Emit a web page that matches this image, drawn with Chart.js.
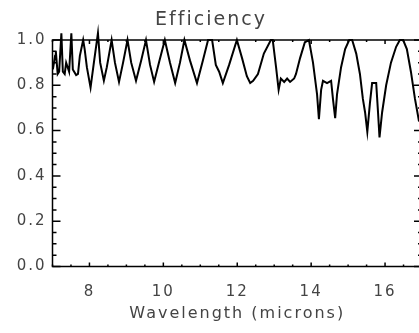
<!DOCTYPE html>
<html>
<head>
<meta charset="utf-8">
<script src="https://cdn.jsdelivr.net/npm/chart.js@4.4.1/dist/chart.umd.min.js"></script>
<style>
  html, body { margin: 0; padding: 0; background: #fff; overflow: hidden; }
  #wrap { width: 422px; height: 333px; position: relative; }
</style>
</head>
<body>
<div id="wrap"><canvas id="chart"></canvas></div>
<script>
// values
const wavelength = [
  7.01, 7.07, 7.09, 7.14, 7.18, 7.24, 7.28, 7.33, 7.37, 7.45, 7.51, 7.55, 7.64, 7.69, 7.74, 7.83,
  7.87, 7.93, 8.03, 8.12, 8.23, 8.29, 8.39, 8.47, 8.60, 8.69, 8.80, 8.91, 9.03, 9.13, 9.26, 9.40,
  9.53, 9.64, 9.75, 9.88, 10.04, 10.18, 10.32, 10.45, 10.57, 10.72, 10.91, 11.07, 11.21, 11.32,
  11.42, 11.51, 11.61, 11.78, 11.99, 12.13, 12.26, 12.35, 12.43, 12.56, 12.72, 12.91, 12.96,
  13.05, 13.12, 13.18, 13.27, 13.35, 13.43, 13.54, 13.59, 13.70, 13.83, 13.94, 14.05, 14.16,
  14.21, 14.27, 14.32, 14.43, 14.54, 14.59, 14.65, 14.70, 14.81, 14.92, 15.03, 15.11, 15.22,
  15.32, 15.40, 15.46, 15.52, 15.59, 15.65, 15.76, 15.81, 15.85, 15.92, 16.03, 16.16, 16.30,
  16.40, 16.49, 16.59, 16.70, 16.81, 16.92
];
const efficiency = [
  0.87, 0.93, 0.95, 0.85, 0.86, 1.03, 0.86, 0.85, 0.90, 0.86, 1.03, 0.87, 0.845, 0.85, 0.93, 1.00,
  0.96, 0.88, 0.79, 0.90, 1.03, 0.90, 0.82, 0.88, 1.00, 0.90, 0.815, 0.90, 1.00, 0.90, 0.82, 0.91,
  1.00, 0.89, 0.815, 0.90, 1.00, 0.90, 0.81, 0.90, 1.00, 0.91, 0.81, 0.91, 1.00, 1.00,
  0.89, 0.86, 0.81, 0.89, 1.00, 0.92, 0.84, 0.81, 0.82, 0.85, 0.94, 1.00, 1.00,
  0.88, 0.78, 0.83, 0.815, 0.83, 0.815, 0.83, 0.85, 0.92, 0.99, 1.00, 0.90, 0.76,
  0.65, 0.78, 0.82, 0.81, 0.82, 0.74, 0.655, 0.76, 0.88, 0.96, 1.00, 1.00, 0.94,
  0.85, 0.74, 0.68, 0.595, 0.72, 0.81, 0.81, 0.68, 0.57, 0.68, 0.80, 0.90, 0.97,
  1.00, 1.00, 0.96, 0.86, 0.74, 0.64
];
const xLabelTicks = [8, 10, 12, 14, 16];
const yLabelTicks = [0.0, 0.2, 0.4, 0.6, 0.8, 1.0];

const textColor = '#444';
const fontFamily = 'DejaVu Sans';

// IDL-like look: wide letter spacing and inward ticks on all four sides
const spacing = {
  id: 'spacing',
  beforeLayout(chart) { chart.ctx.letterSpacing = '2px'; },
  beforeDraw(chart) { chart.ctx.letterSpacing = '2px'; }
};

const frame = {
  id: 'frame',
  afterDatasetsDraw(chart) {
    const { ctx, chartArea: a, scales: { x, y } } = chart;
    ctx.save();
    ctx.strokeStyle = '#000';
    ctx.lineWidth = 1.5;
    ctx.strokeRect(a.left, a.top, a.right - a.left, a.bottom - a.top);
    ctx.beginPath();
    for (let i = 0; i <= 20; i++) {
      const v = i * 0.05;
      const py = y.getPixelForValue(v);
      const len = i % 4 === 0 ? 8 : 4;
      ctx.moveTo(a.left, py); ctx.lineTo(a.left + len, py);
      ctx.moveTo(a.right, py); ctx.lineTo(a.right - len, py);
    }
    for (let i = 14; i <= 34; i++) {
      const v = i * 0.5;
      const px = x.getPixelForValue(v);
      if (px > a.right) continue;
      const len = i % 4 === 0 ? 4 : 2;
      ctx.moveTo(px, a.bottom); ctx.lineTo(px, a.bottom - len);
      ctx.moveTo(px, a.top); ctx.lineTo(px, a.top + len);
    }
    ctx.stroke();
    ctx.restore();
  }
};

new Chart(document.getElementById('chart'), {
  type: 'line',
  data: {
    datasets: [{
      data: wavelength.map((w, i) => ({ x: w, y: efficiency[i] })),
      borderColor: '#000',
      borderWidth: 2,
      pointRadius: 0,
      tension: 0,
      clip: false
    }]
  },
  options: {
    responsive: true,
    maintainAspectRatio: false,
    animation: false,
    layout: { padding: 0 },
    plugins: {
      legend: { display: false },
      tooltip: { enabled: false },
      title: {
        display: true,
        text: 'Efficiency',
        color: textColor,
        font: { family: fontFamily, size: 19, weight: 'normal' },
        padding: { top: 9, bottom: 8.2 }
      }
    },
    scales: {
      x: {
        type: 'linear',
        min: 7,
        max: 17,
        afterFit(scale) { scale.height = 66.5; },
        afterBuildTicks(scale) { scale.ticks = xLabelTicks.map(v => ({ value: v })); },
        grid: { display: false, drawTicks: false },
        border: { display: false },
        ticks: {
          color: textColor,
          padding: 17,
          font: { family: fontFamily, size: 15 }
        },
        title: {
          display: true,
          text: 'Wavelength (microns)',
          color: textColor,
          font: { family: fontFamily, size: 16 },
          padding: { top: 0, bottom: 10 }
        }
      },
      y: {
        min: 0,
        max: 1,
        afterFit(scale) { scale.width = 52.5; },
        afterBuildTicks(scale) { scale.ticks = yLabelTicks.map(v => ({ value: v })); },
        grid: { display: false, drawTicks: false },
        border: { display: false },
        ticks: {
          color: textColor,
          padding: 6,
          font: { family: fontFamily, size: 15 },
          callback: v => v.toFixed(1)
        }
      }
    }
  },
  plugins: [spacing, frame]
});
</script>
</body>
</html>
